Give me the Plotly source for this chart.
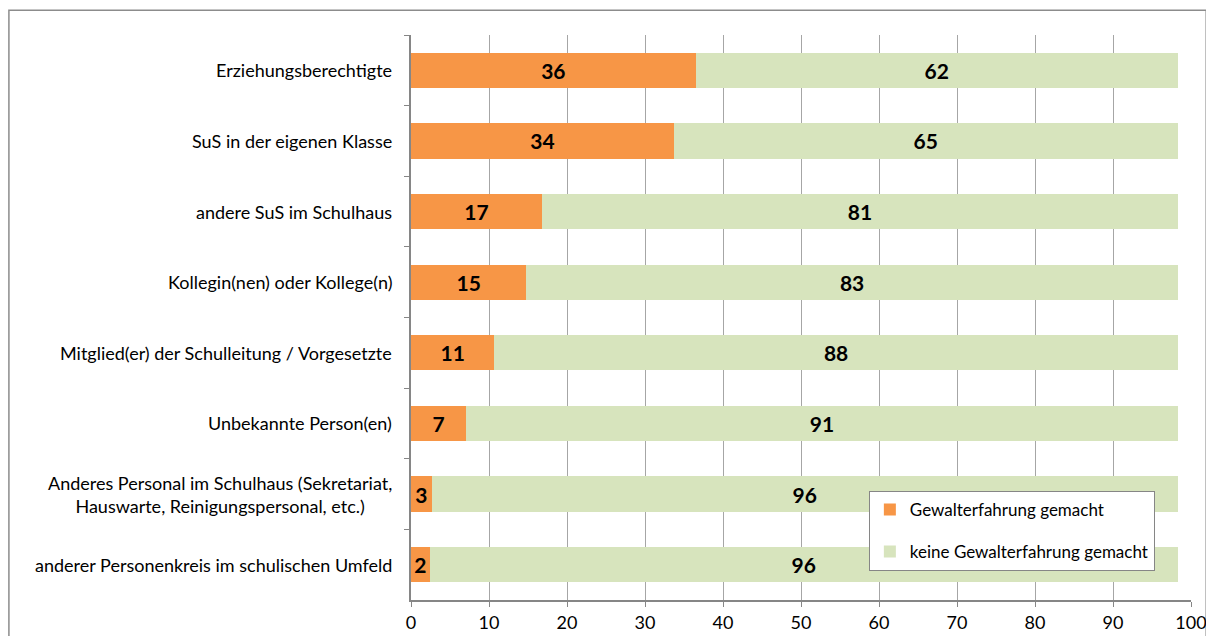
import plotly.graph_objects as go

categories = [
    "Erziehungsberechtigte",
    "SuS in der eigenen Klasse",
    "andere SuS im Schulhaus",
    "Kollegin(nen) oder Kollege(n)",
    "Mitglied(er) der Schulleitung / Vorgesetzte",
    "Unbekannte Person(en)",
    "Anderes Personal im Schulhaus (Sekretariat,<br>Hauswarte, Reinigungspersonal, etc.)",
    "anderer Personenkreis im schulischen Umfeld",
]
gewalt = [36.5, 33.7, 16.8, 14.8, 10.7, 7.1, 2.65, 2.4]
keine = [61.8, 64.6, 81.5, 83.5, 87.6, 91.2, 95.65, 95.9]
gewalt_labels = ["36", "34", "17", "15", "11", "7", "3", "2"]
keine_labels = ["62", "65", "81", "83", "88", "91", "96", "96"]
x_ticks = list(range(0, 101, 10))

FONT = "Lato, Calibri, sans-serif"

fig = go.Figure()
fig.add_trace(go.Bar(
    y=categories, x=gewalt, orientation="h", name="Gewalterfahrung gemacht",
    marker=dict(color="#F79646", line=dict(width=0)),
    text=gewalt_labels, textposition="inside", insidetextanchor="middle",
    textangle=0, textfont=dict(size=21, color="black", family=FONT, weight="bold"),
    legendgroup="a",
))
fig.add_trace(go.Bar(
    y=categories, x=keine, orientation="h", name="keine Gewalterfahrung gemacht",
    marker=dict(color="#D7E4BD", line=dict(width=0)),
    text=keine_labels, textposition="inside", insidetextanchor="middle",
    textangle=0, textfont=dict(size=21, color="black", family=FONT, weight="bold"),
    legendgroup="b",
))

# category labels as centred annotations (multi-line label is centred)
for cat in categories:
    fig.add_annotation(
        x=0, y=cat, xref="paper", yref="y", text=cat, showarrow=False,
        xanchor="right", xshift=-17, align="center",
        font=dict(size=18, color="black", family=FONT),
    )

# outer chart border
fig.add_shape(type="rect", xref="paper", yref="paper",
              x0=-0.5155, x1=1.0195, y0=-0.2, y1=1.044,
              line=dict(color="#8c8c8c", width=1.5), layer="below")

# page body adds 8px offset, so the figure is smaller than the window
fig.update_layout(
    barmode="stack",
    bargap=0.5,
    width=1198, height=628,
    margin=dict(l=403, r=15, t=27, b=36),
    paper_bgcolor="white", plot_bgcolor="white",
    font=dict(family=FONT, size=18, color="black"),
    uniformtext=dict(minsize=21, mode="show"),
    xaxis=dict(
        range=[0, 100], tickvals=x_ticks, showgrid=True, gridcolor="#a6a6a6",
        gridwidth=1, zeroline=False, showline=True, linecolor="#868686",
        linewidth=2, ticks="outside", ticklen=5, tickcolor="#868686",
        tickfont=dict(size=18, color="black"), automargin=False,
        ticklabeloverflow="allow",
    ),
    yaxis=dict(
        autorange="reversed", showticklabels=False, showgrid=False,
        showline=True, linecolor="#868686", linewidth=2, automargin=False,
        ticks="outside", ticklen=5, tickcolor="#868686", tickson="boundaries",
    ),
    legend=dict(
        x=0.587, y=0.193, xanchor="left", yanchor="top",
        bgcolor="white", bordercolor="#868686", borderwidth=1,
        font=dict(size=17, color="black"), traceorder="grouped",
        tracegroupgap=17, itemwidth=30,
    ),
)

fig.write_html("out.html")
